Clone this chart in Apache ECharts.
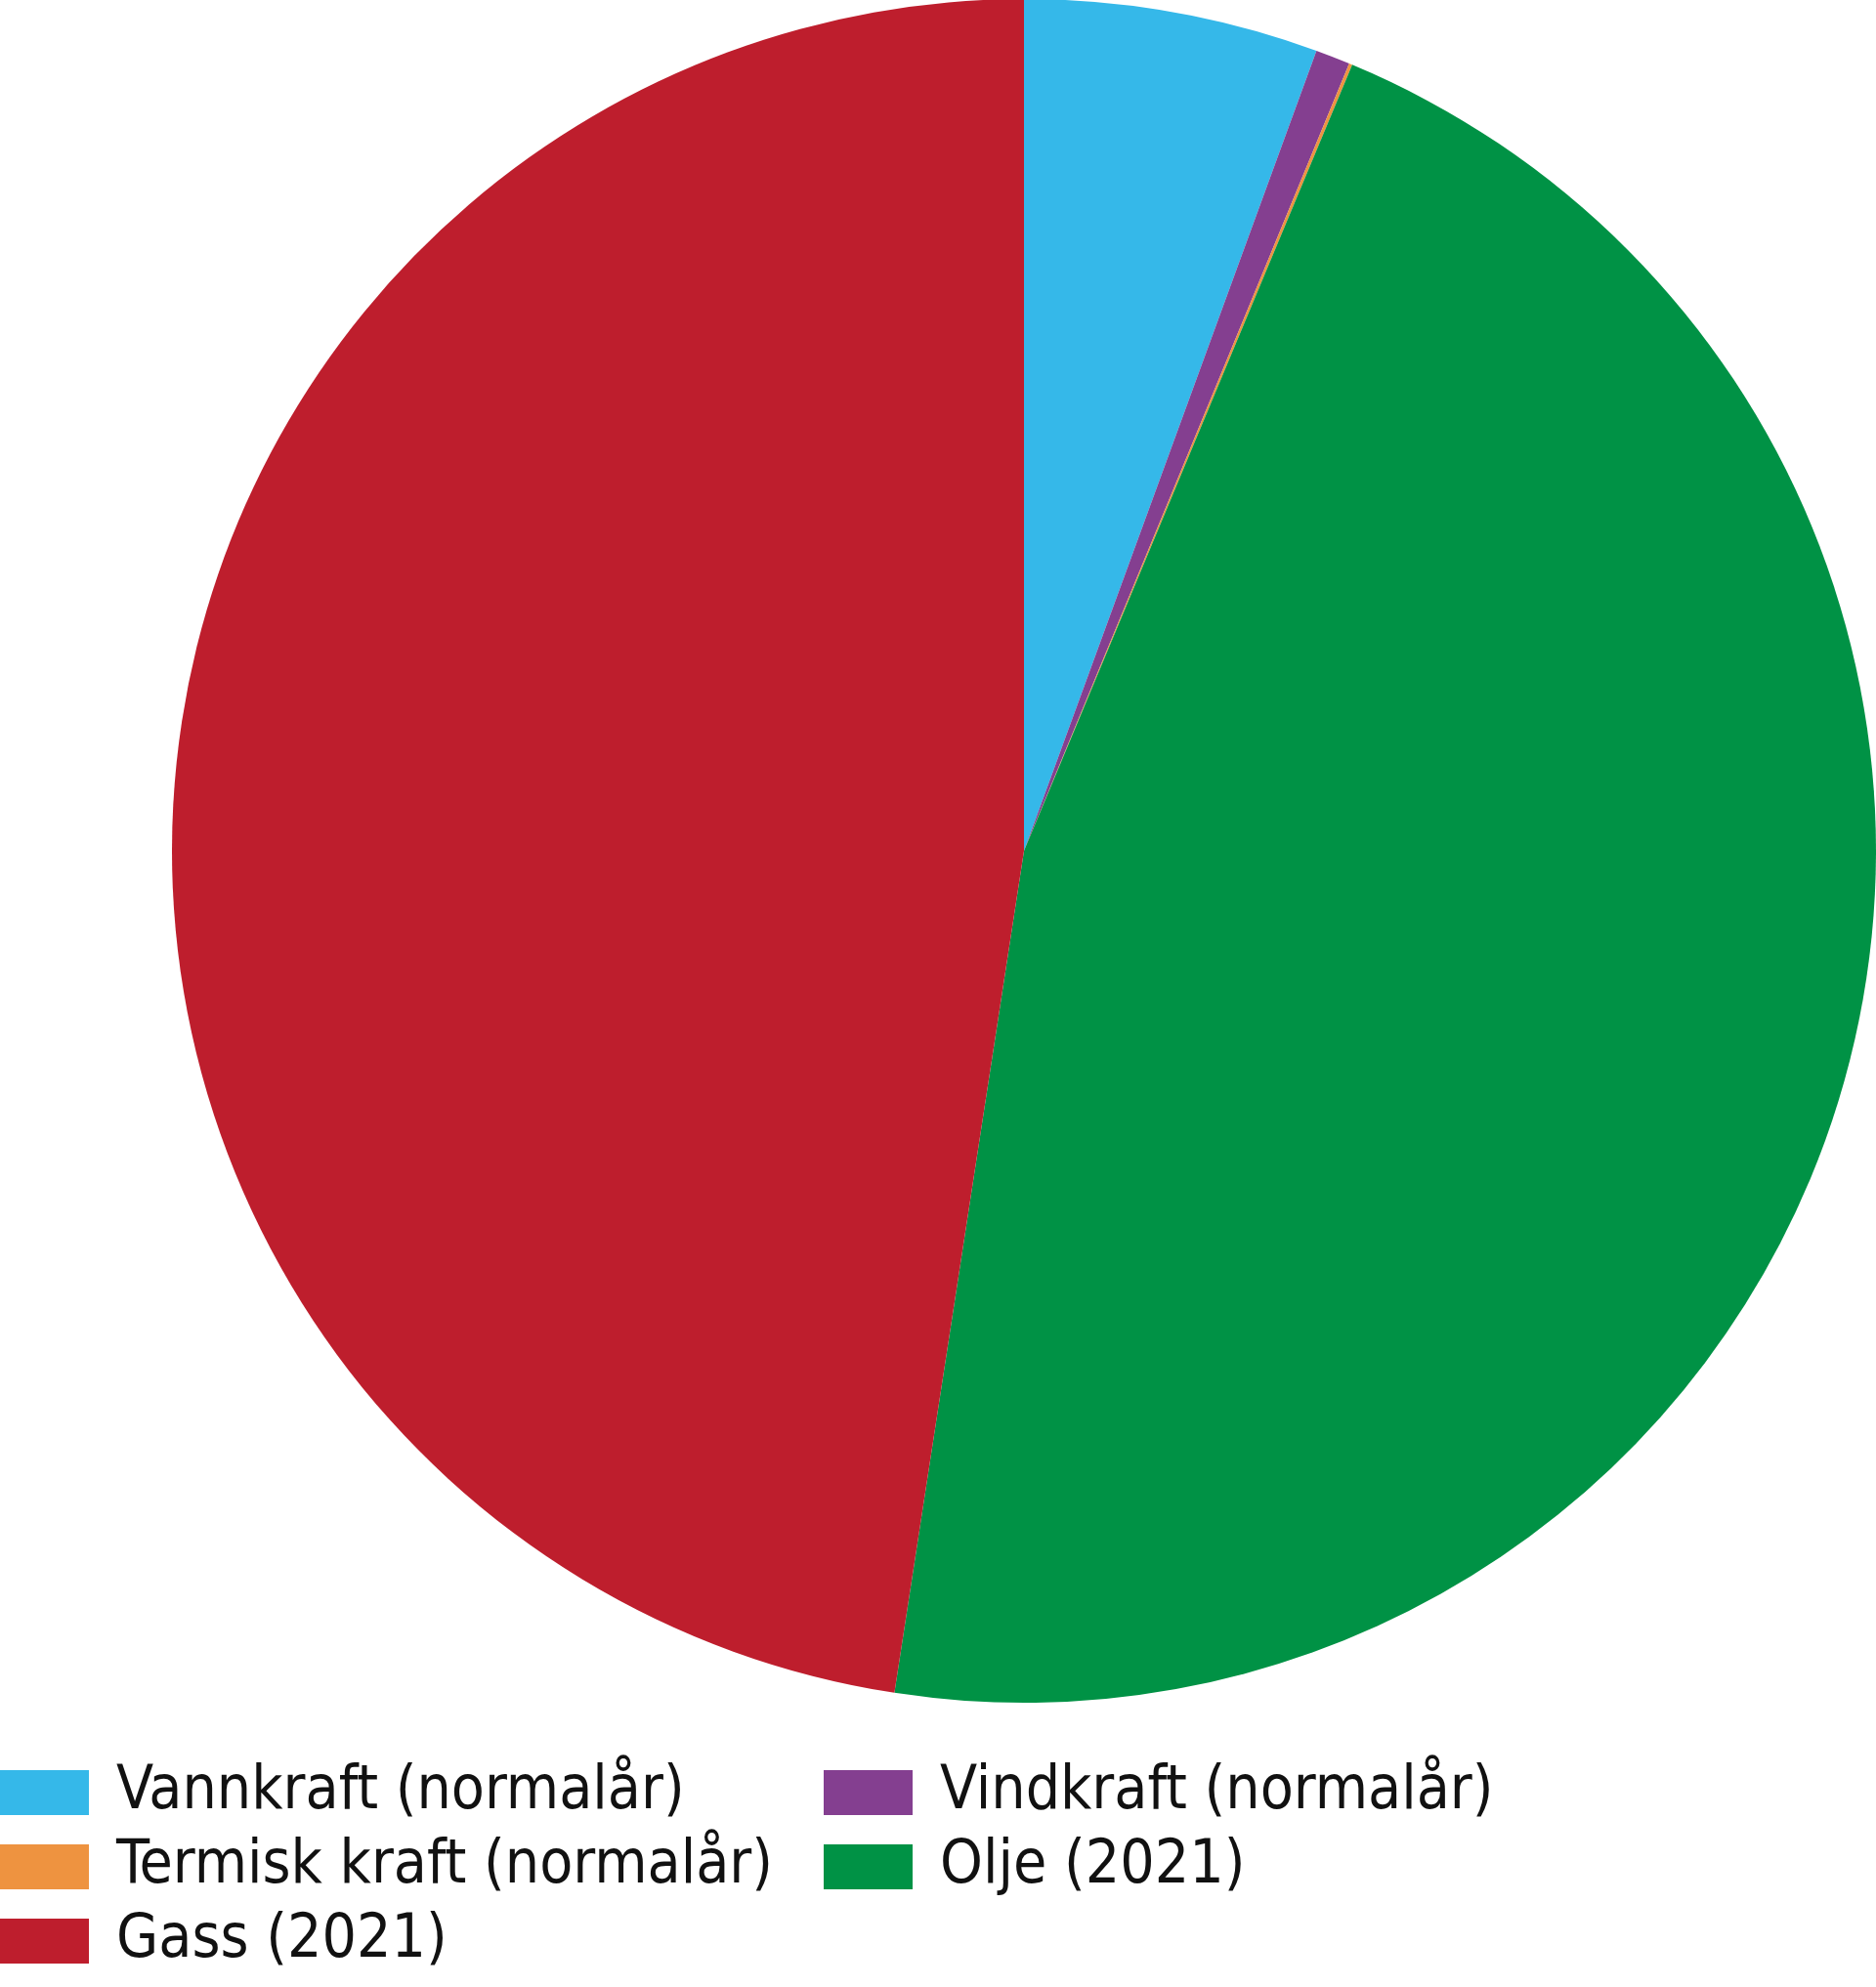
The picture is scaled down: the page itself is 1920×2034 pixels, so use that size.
<!DOCTYPE html>
<html>
<head>
<meta charset="utf-8">
<script src="https://cdn.jsdelivr.net/npm/echarts@6/dist/echarts.min.js"></script>
<style>
html,body{margin:0;padding:0;background:#fff;}
#chart{width:1920px;height:2034px;}
</style>
</head>
<body>
<div id="chart"></div>
<script>
const categories = ['Vannkraft (normalår)', 'Vindkraft (normalår)', 'Termisk kraft (normalår)', 'Olje (2021)', 'Gass (2021)'];
const values = [136, 16, 1.5, 1125, 1160];
const colors = ['#35b8e9', '#843f90', '#ee9340', '#009245', '#be1e2d'];
const legendLeftColumn = ['Vannkraft (normalår)', 'Termisk kraft (normalår)', 'Gass (2021)'];
const legendRightColumn = ['Vindkraft (normalår)', 'Olje (2021)'];

const legendText = {
  fontFamily: "'DejaVu Sans Condensed', sans-serif",
  fontSize: 62,
  color: '#111111',
  lineHeight: 62,
  padding: [0, 0, 0, 23]
};
function makeLegend(data, left) {
  return {
    data: data,
    orient: 'vertical',
    left: left,
    top: 1804,
    padding: 0,
    itemWidth: 91,
    itemHeight: 46,
    itemGap: 14,
    icon: 'rect',
    textStyle: legendText
  };
}

const chart = echarts.init(document.getElementById('chart'), null, {renderer: 'canvas'});
chart.setOption({
  animation: false,
  backgroundColor: '#ffffff',
  legend: [makeLegend(legendLeftColumn, 0), makeLegend(legendRightColumn, 843)],
  series: [{
    type: 'pie',
    center: [1048, 871],
    radius: [0, 872],
    startAngle: 90,
    clockwise: true,
    label: {show: false},
    labelLine: {show: false},
    itemStyle: {borderWidth: 0},
    emphasis: {disabled: true},
    data: categories.map((c, i) => ({name: c, value: values[i], itemStyle: {color: colors[i]}}))
  }]
});
</script>
</body>
</html>
